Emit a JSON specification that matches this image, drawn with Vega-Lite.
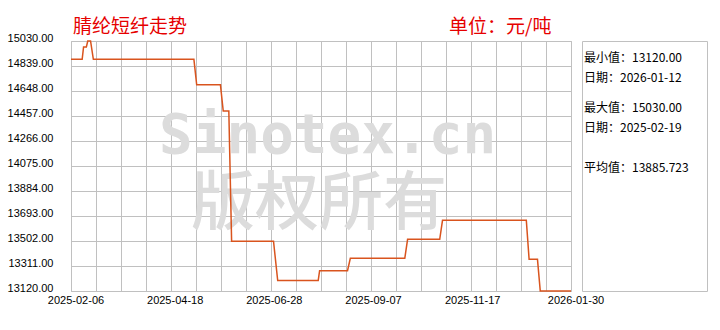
{
  "$schema": "https://vega.github.io/schema/vega-lite/v6.json",
  "background": "white",
  "padding": {"left": 6, "top": 17, "right": 14, "bottom": 10},
  "bounds": "flush",
  "spacing": 11,
  "config": {
    "view": {"stroke": "#c0c0c0", "strokeWidth": 1},
    "title": {"font": "Noto Sans CJK SC", "fontSize": 19, "fontWeight": "normal", "color": "#e60000", "anchor": "start", "baseline": "alphabetic", "frame": "group"},
    "axis": {"labelFont": "Liberation Sans", "labelFontSize": 11, "labelColor": "#000000", "gridColor": "#c0c0c0", "gridOpacity": 1, "gridWidth": 1, "domain": false, "ticks": false, "title": null}
  },
  "datasets": {
    "price": [
      {"date": "2025-02-06", "value": 14890},
      {"date": "2025-02-14", "value": 14890},
      {"date": "2025-02-15", "value": 14985},
      {"date": "2025-02-17", "value": 14985},
      {"date": "2025-02-18", "value": 15030},
      {"date": "2025-02-19", "value": 15030},
      {"date": "2025-02-20", "value": 15030},
      {"date": "2025-02-22", "value": 14890},
      {"date": "2025-05-05", "value": 14890},
      {"date": "2025-05-07", "value": 14695},
      {"date": "2025-05-24", "value": 14695},
      {"date": "2025-05-26", "value": 14495},
      {"date": "2025-05-30", "value": 14495},
      {"date": "2025-06-01", "value": 13500},
      {"date": "2025-07-01", "value": 13500},
      {"date": "2025-07-04", "value": 13200},
      {"date": "2025-08-02", "value": 13200},
      {"date": "2025-08-03", "value": 13275},
      {"date": "2025-08-23", "value": 13275},
      {"date": "2025-08-25", "value": 13370},
      {"date": "2025-10-03", "value": 13370},
      {"date": "2025-10-05", "value": 13515},
      {"date": "2025-10-28", "value": 13515},
      {"date": "2025-10-30", "value": 13660},
      {"date": "2025-12-29", "value": 13660},
      {"date": "2025-12-31", "value": 13362},
      {"date": "2026-01-06", "value": 13362},
      {"date": "2026-01-08", "value": 13120},
      {"date": "2026-01-12", "value": 13120},
      {"date": "2026-01-30", "value": 13120}
    ],
    "gridDates": [
      {"date": "2025-02-23T21:36:00Z"},
      {"date": "2025-03-13T19:12:00Z"},
      {"date": "2025-03-31T16:48:00Z"},
      {"date": "2025-04-18T14:24:00Z"},
      {"date": "2025-05-06T12:00:00Z"},
      {"date": "2025-05-24T09:36:00Z"},
      {"date": "2025-06-11T07:12:00Z"},
      {"date": "2025-06-29T04:48:00Z"},
      {"date": "2025-07-17T02:24:00Z"},
      {"date": "2025-08-04T00:00:00Z"},
      {"date": "2025-08-21T21:36:00Z"},
      {"date": "2025-09-08T19:12:00Z"},
      {"date": "2025-09-26T16:48:00Z"},
      {"date": "2025-10-14T14:24:00Z"},
      {"date": "2025-11-01T12:00:00Z"},
      {"date": "2025-11-19T09:36:00Z"},
      {"date": "2025-12-07T07:12:00Z"},
      {"date": "2025-12-25T04:48:00Z"},
      {"date": "2026-01-12T02:24:00Z"}
    ],
    "xLabels": [
      {"date": "2025-02-06", "label": "2025-02-06"},
      {"date": "2025-04-18", "label": "2025-04-18"},
      {"date": "2025-06-28", "label": "2025-06-28"},
      {"date": "2025-09-07", "label": "2025-09-07"},
      {"date": "2025-11-17", "label": "2025-11-17"},
      {"date": "2026-01-30", "label": "2026-01-30"}
    ],
    "minStat": [{"lines": ["最小值：13120.00", "　日期：2026-01-12"]}],
    "maxStat": [{"lines": ["最大值：15030.00", "　日期：2025-02-19"]}],
    "avgStat": [{"lines": ["平均值：13885.723"]}]
  },
  "hconcat": [
    {
      "width": 500,
      "height": 250,
      "title": {"text": "腈纶短纤走势", "offset": -5, "dx": 2},
      "layer": [
        {
          "data": {"name": "gridDates"},
          "mark": {"type": "rule", "color": "#c0c0c0", "strokeWidth": 1, "xOffset": 0.5},
          "encoding": {
            "x": {"field": "date", "type": "temporal", "axis": null}
          }
        },
        {
          "data": {"values": [{"text": "Sinotex.cn"}]},
          "mark": {"type": "text", "font": "DejaVu Sans Mono", "fontSize": 56, "fontWeight": "bold", "color": "#dcdcdc", "align": "center", "baseline": "alphabetic"},
          "encoding": {
            "text": {"field": "text", "type": "nominal"},
            "x": {"datum": {"year": 2025, "month": 8, "date": 8, "hours": 17, "utc": true}, "type": "temporal", "axis": null},
            "y": {"datum": 14174, "type": "quantitative", "axis": null}
          }
        },
        {
          "data": {"values": [{"text": "版权所有"}]},
          "mark": {"type": "text", "font": "Noto Sans CJK SC", "fontSize": 64, "fontWeight": 500, "color": "#dcdcdc", "align": "center", "baseline": "alphabetic"},
          "encoding": {
            "text": {"field": "text", "type": "nominal"},
            "x": {"datum": {"year": 2025, "month": 8, "date": 2, "hours": 14, "utc": true}, "type": "temporal", "axis": null},
            "y": {"datum": 13630, "type": "quantitative", "axis": null}
          }
        },
        {
          "data": {"name": "price"},
          "mark": {"type": "line", "color": "#d9541e", "strokeWidth": 1.5},
          "encoding": {
            "x": {"field": "date", "type": "temporal",
                  "scale": {"type": "utc", "domain": [1738800000000, 1769731200000]},
                  "axis": {"orient": "bottom", "values": [1738800000000, 1740346560000, 1741893120000, 1743439680000, 1744986240000, 1746532800000, 1748079360000, 1749625920000, 1751172480000, 1752719040000, 1754265600000, 1755812160000, 1757358720000, 1758905280000, 1760451840000, 1761998400000, 1763544960000, 1765091520000, 1766638080000, 1768184640000, 1769731200000],
                           "labelExpr": "' '", "labelPadding": 0, "labelFlush": false, "labelOverlap": false, "labelAngle": 0, "ticks": true, "tickSize": 0, "tickOpacity": 0, "grid": true}},
            "y": {"field": "value", "type": "quantitative",
                  "scale": {"domain": [13120, 15030], "zero": false, "nice": false},
                  "axis": {"orient": "left", "values": [13120, 13311, 13502, 13693, 13884, 14075, 14266, 14457, 14648, 14839, 15030], "format": ".2f", "labelPadding": 18, "labelBaseline": "alphabetic", "labelFlush": false, "labelOverlap": false, "grid": true}}
          }
        },
        {
          "data": {"name": "xLabels"},
          "mark": {"type": "text", "font": "Liberation Sans", "fontSize": 11, "color": "#000000", "align": "center", "baseline": "top", "dx": 5, "dy": 4},
          "encoding": {
            "text": {"field": "label", "type": "nominal"},
            "x": {"field": "date", "type": "temporal", "axis": null},
            "y": {"datum": 13120, "type": "quantitative", "axis": null}
          }
        }
      ],
      "resolve": {"axis": {"x": "independent", "y": "independent"}}
    },
    {
      "width": 125,
      "height": 250,
      "title": {"text": "单位：元/吨", "offset": 4, "dx": -133},
      "encoding": {
        "x": {"datum": 0, "type": "quantitative", "scale": {"domain": [0, 1]}, "axis": null},
        "y": {"datum": 1, "type": "quantitative", "scale": {"domain": [0, 1]}, "axis": null},
        "text": {"field": "lines", "type": "nominal"}
      },
      "layer": [
        {"data": {"name": "minStat"}, "mark": {"type": "text", "align": "left", "baseline": "alphabetic", "font": "Noto Sans CJK SC", "fontSize": 12, "lineHeight": 20, "color": "#000000", "dx": 2, "dy": 20.5}},
        {"data": {"name": "maxStat"}, "mark": {"type": "text", "align": "left", "baseline": "alphabetic", "font": "Noto Sans CJK SC", "fontSize": 12, "lineHeight": 20, "color": "#000000", "dx": 2, "dy": 70.5}},
        {"data": {"name": "avgStat"}, "mark": {"type": "text", "align": "left", "baseline": "alphabetic", "font": "Noto Sans CJK SC", "fontSize": 12, "lineHeight": 20, "color": "#000000", "dx": 2, "dy": 130.5}}
      ]
    }
  ]
}
